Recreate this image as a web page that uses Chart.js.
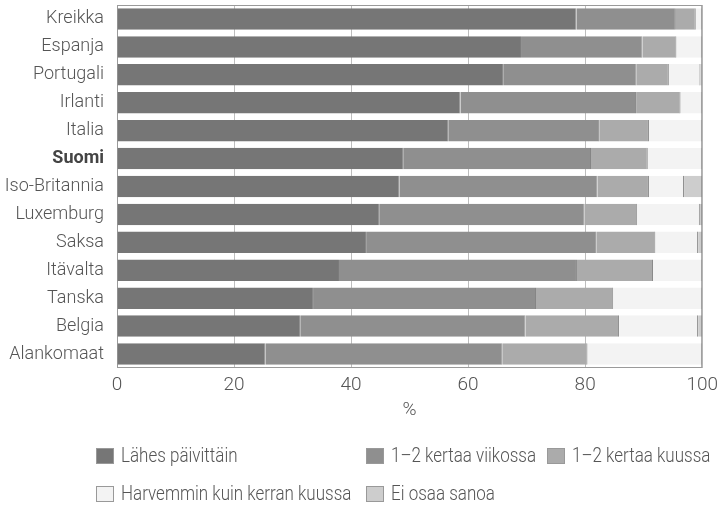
<!DOCTYPE html>
<html>
<head>
<meta charset="utf-8">
<script src="https://cdn.jsdelivr.net/npm/chart.js@4.4.0/dist/chart.umd.min.js"></script>
<style>
  html, body { margin: 0; padding: 0; background: #fff; }
  #wrap { width: 718px; height: 507px; }
</style>
</head>
<body>
<div id="wrap"><canvas id="chart" width="718" height="507"></canvas></div>
<script>
// Maat ylhäältä alas
const maat = ['Kreikka', 'Espanja', 'Portugali', 'Irlanti', 'Italia', 'Suomi', 'Iso-Britannia',
  'Luxemburg', 'Saksa', 'Itävalta', 'Tanska', 'Belgia', 'Alankomaat'];

// Osuudet (%) luettuna kuvasta
const lahesPaivittain = [78.5, 69.2, 66.1, 58.7, 56.6, 48.9, 48.3, 44.8, 42.7, 38.1, 33.5, 31.4, 25.4];
const kertaaViikossa  = [17.0, 20.6, 22.7, 30.0, 25.8, 32.1, 33.8, 35.1, 39.2, 40.5, 38.1, 38.4, 40.5];
const kertaaKuussa    = [3.4, 5.8, 5.5, 7.6, 8.5, 9.7, 8.8, 9.0, 10.1, 13.0, 13.2, 16.0, 14.5];
const harvemmin       = [1.1, 4.4, 5.4, 3.7, 9.1, 9.3, 6.0, 10.7, 7.3, 8.4, 15.2, 13.5, 19.6];
const eiOsaa          = [0, 0, 0.3, 0, 0, 0, 3.1, 0.4, 0.7, 0, 0, 0.7, 0];

const sarjaNimet = ['Lähes päivittäin', '1–2 kertaa viikossa', '1–2 kertaa kuussa',
  'Harvemmin kuin kerran kuussa', 'Ei osaa sanoa'];
const xTicks = [0, 20, 40, 60, 80, 100];

const varit = ['#767676', '#8f8f8f', '#ababab', '#f3f3f3', '#cdcdcd'];
const fontti = "Roboto, 'DejaVu Sans Condensed', sans-serif";
const tekstiVari = '#555';

// Selite piirretään itse, kahdelle riville kuten alkuperäisessä
const selitePlugin = {
  id: 'selite',
  afterDraw(chart) {
    const c = chart.ctx;
    const paikat = [[96, 456], [366, 456], [547, 456], [96, 494], [366, 494]];
    c.save();
    c.font = '300 20px ' + fontti;
    c.textBaseline = 'middle';
    chart.data.datasets.forEach((ds, i) => {
      const [x, y] = paikat[i];
      c.fillStyle = ds.backgroundColor;
      c.fillRect(x, y - 8, 18, 16);
      c.strokeStyle = '#999';
      c.lineWidth = 1;
      c.strokeRect(x + 0.5, y - 7.5, 17, 15);
      // kapeampi teksti kuten alkuperäisen condensed-fontissa
      c.save();
      c.translate(x + 25, y + 1);
      c.scale(0.85, 1);
      c.fillStyle = tekstiVari;
      c.fillText(ds.label, 0, 0);
      c.restore();
    });
    c.restore();
  }
};

// Kehys kuvaajan ympärille
const kehysPlugin = {
  id: 'kehys',
  beforeDatasetsDraw(chart) {
    const a = chart.chartArea;
    const c = chart.ctx;
    c.save();
    c.strokeStyle = '#9a9a9a';
    c.lineWidth = 1;
    c.strokeRect(a.left + 0.5, a.top + 0.5, a.right - a.left - 1, a.bottom - a.top - 1);
    c.restore();
  }
};

const data = [lahesPaivittain, kertaaViikossa, kertaaKuussa, harvemmin, eiOsaa];

const ctx = document.getElementById('chart').getContext('2d');
new Chart(ctx, {
  type: 'bar',
  data: {
    labels: maat,
    datasets: data.map((d, i) => ({
      label: sarjaNimet[i],
      data: d,
      backgroundColor: varit[i],
      borderColor: '#858585',
      borderWidth: { top: 0, bottom: 0, left: 0, right: 1 },
      borderSkipped: false,
      barPercentage: 1,
      categoryPercentage: 0.77
    }))
  },
  options: {
    indexAxis: 'y',
    responsive: false,
    animation: false,
    layout: { padding: { top: 5, right: 15, bottom: 85, left: 0 } },
    plugins: {
      legend: { display: false },
      tooltip: { enabled: false }
    },
    scales: {
      x: {
        stacked: true,
        min: 0,
        max: 100,
        afterFit: (s) => { s.height = 54; },
        afterBuildTicks: (s) => { s.ticks = xTicks.map(v => ({ value: v })); },
        grid: { color: '#bdbdbd', drawTicks: true, tickLength: 6, tickColor: 'rgba(0,0,0,0)' },
        border: { display: false },
        ticks: { color: tekstiVari, padding: 0, font: { family: fontti, size: 19, weight: '300' } },
        title: {
          display: true,
          text: '%',
          color: tekstiVari,
          padding: { top: 0, bottom: 0 },
          font: { family: fontti, size: 19, weight: '300' }
        }
      },
      y: {
        stacked: true,
        afterFit: (s) => { s.width = 117; },
        grid: { color: 'rgba(0,0,0,0)', drawOnChartArea: false, drawTicks: true, tickLength: 13, tickColor: 'rgba(0,0,0,0)' },
        border: { display: false },
        ticks: {
          color: (c) => c.tick && c.tick.label === 'Suomi' ? '#444' : tekstiVari,
          padding: 0,
          font: (c) => ({
            family: fontti,
            size: 18,
            lineHeight: 0.5,
            weight: c.tick && c.tick.label === 'Suomi' ? 'bold' : '300'
          })
        }
      }
    }
  },
  plugins: [kehysPlugin, selitePlugin]
});
</script>
</body>
</html>
